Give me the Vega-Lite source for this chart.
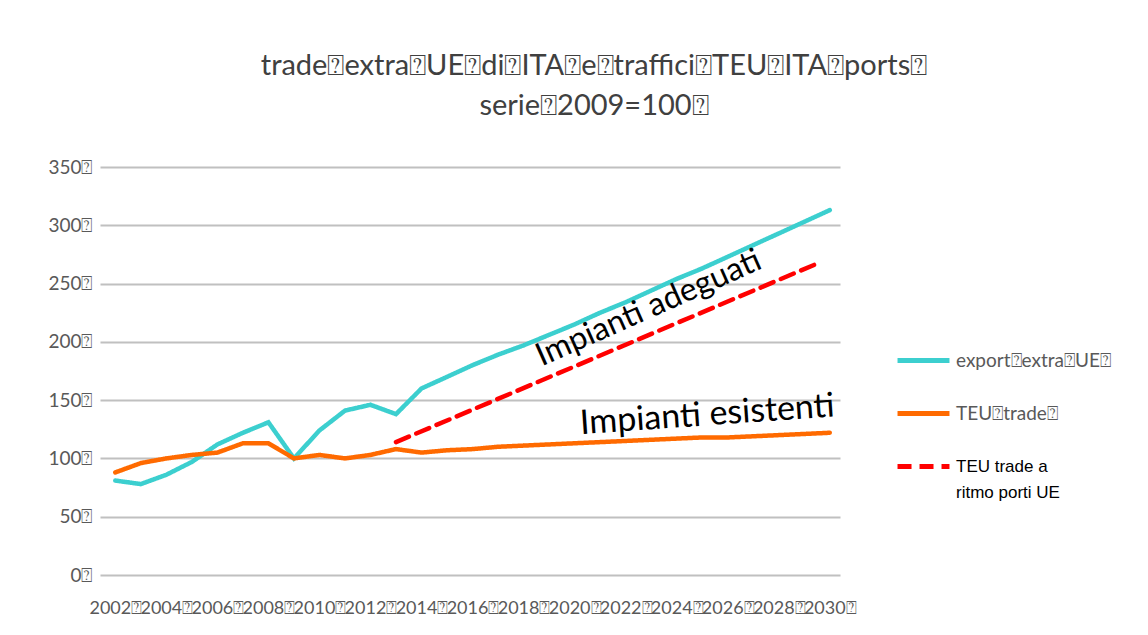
{
  "$schema": "https://vega.github.io/schema/vega-lite/v6.json",
  "width": 740,
  "height": 408,
  "autosize": {"type": "none"},
  "padding": {"left": 100, "top": 167, "right": 308, "bottom": 60},
  "background": "white",
  "config": {"view": {"stroke": null}, "font": "Lato"},
  "title": {
    "text": ["trade⍰extra⍰UE⍰di⍰ITA⍰e⍰traffici⍰TEU⍰ITA⍰ports⍰", "serie⍰2009=100⍰"],
    "fontSize": 29,
    "font": "Lato",
    "fontWeight": "normal",
    "color": "#404040",
    "anchor": "middle",
    "frame": "group",
    "dx": 124,
    "offset": 37,
    "lineHeight": 40
  },
  "datasets": {
    "series": [
      {"year": 2002, "value": 81, "series": "export⍰extra⍰UE⍰"},
      {"year": 2003, "value": 78, "series": "export⍰extra⍰UE⍰"},
      {"year": 2004, "value": 86, "series": "export⍰extra⍰UE⍰"},
      {"year": 2005, "value": 97, "series": "export⍰extra⍰UE⍰"},
      {"year": 2006, "value": 112, "series": "export⍰extra⍰UE⍰"},
      {"year": 2007, "value": 122, "series": "export⍰extra⍰UE⍰"},
      {"year": 2008, "value": 131, "series": "export⍰extra⍰UE⍰"},
      {"year": 2009, "value": 100, "series": "export⍰extra⍰UE⍰"},
      {"year": 2010, "value": 124, "series": "export⍰extra⍰UE⍰"},
      {"year": 2011, "value": 141, "series": "export⍰extra⍰UE⍰"},
      {"year": 2012, "value": 146, "series": "export⍰extra⍰UE⍰"},
      {"year": 2013, "value": 138, "series": "export⍰extra⍰UE⍰"},
      {"year": 2014, "value": 160, "series": "export⍰extra⍰UE⍰"},
      {"year": 2015, "value": 170, "series": "export⍰extra⍰UE⍰"},
      {"year": 2016, "value": 180, "series": "export⍰extra⍰UE⍰"},
      {"year": 2017, "value": 189, "series": "export⍰extra⍰UE⍰"},
      {"year": 2018, "value": 197, "series": "export⍰extra⍰UE⍰"},
      {"year": 2019, "value": 206, "series": "export⍰extra⍰UE⍰"},
      {"year": 2020, "value": 215, "series": "export⍰extra⍰UE⍰"},
      {"year": 2021, "value": 225, "series": "export⍰extra⍰UE⍰"},
      {"year": 2022, "value": 234, "series": "export⍰extra⍰UE⍰"},
      {"year": 2023, "value": 244, "series": "export⍰extra⍰UE⍰"},
      {"year": 2024, "value": 254, "series": "export⍰extra⍰UE⍰"},
      {"year": 2025, "value": 263, "series": "export⍰extra⍰UE⍰"},
      {"year": 2026, "value": 273, "series": "export⍰extra⍰UE⍰"},
      {"year": 2027, "value": 283, "series": "export⍰extra⍰UE⍰"},
      {"year": 2028, "value": 293, "series": "export⍰extra⍰UE⍰"},
      {"year": 2029, "value": 303, "series": "export⍰extra⍰UE⍰"},
      {"year": 2030, "value": 313, "series": "export⍰extra⍰UE⍰"},
      {"year": 2002, "value": 88, "series": "TEU⍰trade⍰"},
      {"year": 2003, "value": 96, "series": "TEU⍰trade⍰"},
      {"year": 2004, "value": 100, "series": "TEU⍰trade⍰"},
      {"year": 2005, "value": 103, "series": "TEU⍰trade⍰"},
      {"year": 2006, "value": 105, "series": "TEU⍰trade⍰"},
      {"year": 2007, "value": 113, "series": "TEU⍰trade⍰"},
      {"year": 2008, "value": 113, "series": "TEU⍰trade⍰"},
      {"year": 2009, "value": 100, "series": "TEU⍰trade⍰"},
      {"year": 2010, "value": 103, "series": "TEU⍰trade⍰"},
      {"year": 2011, "value": 100, "series": "TEU⍰trade⍰"},
      {"year": 2012, "value": 103, "series": "TEU⍰trade⍰"},
      {"year": 2013, "value": 108, "series": "TEU⍰trade⍰"},
      {"year": 2014, "value": 105, "series": "TEU⍰trade⍰"},
      {"year": 2015, "value": 107, "series": "TEU⍰trade⍰"},
      {"year": 2016, "value": 108, "series": "TEU⍰trade⍰"},
      {"year": 2017, "value": 110, "series": "TEU⍰trade⍰"},
      {"year": 2018, "value": 111, "series": "TEU⍰trade⍰"},
      {"year": 2019, "value": 112, "series": "TEU⍰trade⍰"},
      {"year": 2020, "value": 113, "series": "TEU⍰trade⍰"},
      {"year": 2021, "value": 114, "series": "TEU⍰trade⍰"},
      {"year": 2022, "value": 115, "series": "TEU⍰trade⍰"},
      {"year": 2023, "value": 116, "series": "TEU⍰trade⍰"},
      {"year": 2024, "value": 117, "series": "TEU⍰trade⍰"},
      {"year": 2025, "value": 118, "series": "TEU⍰trade⍰"},
      {"year": 2026, "value": 118, "series": "TEU⍰trade⍰"},
      {"year": 2027, "value": 119, "series": "TEU⍰trade⍰"},
      {"year": 2028, "value": 120, "series": "TEU⍰trade⍰"},
      {"year": 2029, "value": 121, "series": "TEU⍰trade⍰"},
      {"year": 2030, "value": 122, "series": "TEU⍰trade⍰"},
      {"year": 2013, "value": 114, "series": "TEU trade a ritmo porti UE"},
      {"year": 2029.6, "value": 268, "series": "TEU trade a ritmo porti UE"}
    ]
  },
  "layer": [
    {
      "data": {"name": "series"},
      "mark": {"type": "line", "strokeWidth": 4.5, "strokeCap": "round", "strokeJoin": "miter"},
      "encoding": {
        "x": {
          "field": "year",
          "type": "quantitative",
          "scale": {"domain": [2001.4, 2030.4], "nice": false, "zero": false},
          "axis": {
            "title": null,
            "values": [2002, 2004, 2006, 2008, 2010, 2012, 2014, 2016, 2018, 2020, 2022, 2024, 2026, 2028, 2030],
            "labelExpr": "datum.value + '⍰'",
            "grid": false,
            "domain": false,
            "ticks": false,
            "labelPadding": 24,
            "labelFontSize": 18,
            "labelColor": "#595959",
            "labelOverlap": false,
            "labelFont": "Lato"
          }
        },
        "y": {
          "field": "value",
          "type": "quantitative",
          "scale": {"domain": [0, 350], "nice": false},
          "axis": {
            "title": null,
            "values": [0, 50, 100, 150, 200, 250, 300, 350],
            "labelExpr": "datum.value + '⍰'",
            "grid": true,
            "gridColor": "#c0c0c0",
            "gridWidth": 2,
            "domain": false,
            "ticks": false,
            "labelPadding": 8,
            "labelFontSize": 19,
            "labelColor": "#595959",
            "labelFont": "Lato"
          }
        },
        "color": {
          "field": "series",
          "type": "nominal",
          "scale": {
            "domain": ["export⍰extra⍰UE⍰", "TEU⍰trade⍰", "TEU trade a ritmo porti UE"],
            "range": ["#3ccfcf", "#ff6a00", "#ff0000"]
          },
          "legend": {
            "title": null,
            "orient": "none",
            "legendX": 795,
            "legendY": 165,
            "symbolType": "stroke",
            "symbolSize": 2700,
            "symbolStrokeWidth": 5,
            "labelFontSize": 19,
            "labelFont": "Lato",
            "labelColor": "#595959",
            "labelLimit": 300,
            "rowPadding": 14,
            "labelOffset": 4,
            "labelExpr": "datum.label == 'TEU trade a ritmo porti UE' ? ['TEU trade a', 'ritmo porti UE'] : datum.label",
            "encode": {
              "labels": {
                "update": {
                  "fill": {"signal": "datum.label == 'TEU trade a ritmo porti UE' ? '#000000' : '#595959'"},
                  "font": {"signal": "datum.label == 'TEU trade a ritmo porti UE' ? 'Liberation Sans' : 'Lato'"},
                  "fontSize": {"signal": "datum.label == 'TEU trade a ritmo porti UE' ? 17 : 19"},
                  "lineHeight": {"value": 26}
                }
              }
            }
          }
        },
        "strokeDash": {
          "field": "series",
          "type": "nominal",
          "scale": {
            "domain": ["export⍰extra⍰UE⍰", "TEU⍰trade⍰", "TEU trade a ritmo porti UE"],
            "range": [[1, 0], [1, 0], [14, 8]]
          },
          "legend": null
        }
      }
    },
    {
      "data": {"values": [{"year": 2022.9, "value": 229, "label": "Impianti adeguati"}]},
      "mark": {"type": "text", "angle": -24, "fontSize": 32, "font": "Lato", "color": "#000000", "align": "center", "baseline": "middle"},
      "encoding": {
        "x": {"field": "year", "type": "quantitative"},
        "y": {"field": "value", "type": "quantitative"},
        "text": {"field": "label"}
      }
    },
    {
      "data": {"values": [{"year": 2025.2, "value": 137, "label": "Impianti esistenti"}]},
      "mark": {"type": "text", "angle": -4, "fontSize": 34, "font": "Lato", "color": "#000000", "align": "center", "baseline": "middle"},
      "encoding": {
        "x": {"field": "year", "type": "quantitative"},
        "y": {"field": "value", "type": "quantitative"},
        "text": {"field": "label"}
      }
    }
  ]
}
